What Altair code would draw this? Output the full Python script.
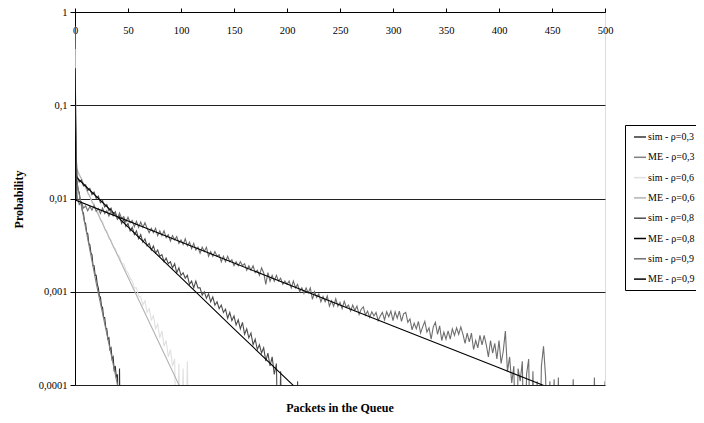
import altair as alt
import pandas as pd

FONT = "Liberation Serif"
ZERO = 0.00001  # empty cells of the simulation (drawn below the axis floor)

series_names = ["sim - ρ=0,3", "ME - ρ=0,3", "sim - ρ=0,6", "ME - ρ=0,6",
                "sim - ρ=0,8", "ME - ρ=0,8", "sim - ρ=0,9", "ME - ρ=0,9"]
series_colors = ["#333333", "#808080", "#e0e0e0", "#b2b2b2",
                 "#4d4d4d", "#000000", "#6e6e6e", "#000000"]

x_ticks = [0, 50, 100, 150, 200, 250, 300, 350, 400, 450, 500]
y_ticks = [0.0001, 0.001, 0.01, 0.1, 1]

# ---- analytical (ME) curves: breakpoints
me03_x = [0, 1, 20, 45]
me03_p = [0.7, 0.0166, 0.00124, 0.0000542]
me06_x = [0, 1, 50, 110]
me06_p = [0.4, 0.0214, 0.00143, 0.0000518]
me08_x = [0, 1, 50, 100, 150, 220]
me08_p = [0.25, 0.017, 0.00497, 0.00142, 0.0004, 0.0000697]
me09_x = [0, 1, 100, 200, 300, 400, 500]
me09_p = [0.1, 0.00955, 0.00342, 0.00121, 0.00043, 0.000153, 0.0000543]

# ---- simulation curves
sim03_p = [0.7, 0.018, 0.0150, 0.0122, 0.0116, 0.0094, 0.0090, 0.0073, 0.0069, 0.0056,
           0.0054, 0.0043, 0.0042, 0.0033, 0.0032, 0.0026, 0.0025, 0.0019, 0.0019, 0.0015,
           0.0015, 0.0012, 0.0011, 0.00090, 0.00088, 0.00070, 0.00068, 0.00053, 0.00053, 0.00041,
           0.00040, 0.00031, 0.00032, 0.00024, 0.00025, 0.00019, 0.00020, 0.00014, 0.00016, 0.00012,
           0.00013, ZERO, 0.00015, ZERO]

sim06_head = [0.4, 0.03]
sim06_p = [0.0210, 0.0176, 0.0168, 0.0140, 0.0135, 0.0112, 0.0108, 0.0090, 0.0088, 0.0072,
           0.0070, 0.0058, 0.0057, 0.0046, 0.0045, 0.0037, 0.0036, 0.0030, 0.0029, 0.0025,
           0.0024, 0.0020, 0.0020, 0.0017, 0.0016, 0.0014, 0.0013, 0.0011, 0.0011, 0.00090,
           0.00088, 0.00072, 0.00080, 0.00060, 0.00066, 0.00050, 0.00055, 0.00040, 0.00045, 0.00032,
           0.00038, 0.00026, 0.00030, 0.00020, 0.00024, 0.00016, 0.00019, ZERO, 0.00017, ZERO,
           0.00015, ZERO, 0.00018, ZERO]

sim08_head = [0.25, 0.03]
sim08_p = [0.0175, 0.0150, 0.0158, 0.0136, 0.0140, 0.0122, 0.0128, 0.0110, 0.0117, 0.0100,
           0.0106, 0.0090, 0.0095, 0.0081, 0.0086, 0.0074, 0.0079, 0.0067, 0.0072, 0.0060,
           0.0065, 0.0054, 0.0060, 0.0050, 0.0054, 0.0045, 0.0049, 0.0041, 0.0045, 0.0037,
           0.0041, 0.0034, 0.0037, 0.0031, 0.0033, 0.0028, 0.0031, 0.0026, 0.0028, 0.0024,
           0.0025, 0.0021, 0.0023, 0.0020, 0.0021, 0.0018, 0.0020, 0.0016, 0.0018, 0.0015,
           0.0016, 0.0014, 0.0015, 0.0012, 0.0013, 0.0011, 0.0013, 0.0011, 0.0011, 0.00092,
           0.0010, 0.00085, 0.00095, 0.00078, 0.00088, 0.00072, 0.00078, 0.00066, 0.00072, 0.00060,
           0.00065, 0.00052, 0.00060, 0.00049, 0.00055, 0.00044, 0.00050, 0.00040, 0.00047, 0.00035,
           0.00040, 0.00032, 0.00036, 0.00027, 0.00031, 0.00024, 0.00027, 0.00022, 0.00025, 0.00018,
           0.00022, 0.00016, 0.00020, 0.00013, 0.00017, ZERO, 0.00014, ZERO, ZERO, ZERO,
           ZERO, ZERO, ZERO, ZERO, 0.00011, ZERO]

sim09_head = [0.1, 0.028]
sim09_p = [0.0105, 0.0086, 0.0092, 0.0079, 0.0083, 0.0074, 0.0082, 0.0075, 0.0084, 0.0073,
           0.0078, 0.0069, 0.0079, 0.0069, 0.0074, 0.0065, 0.0074, 0.0065, 0.0070, 0.0061,
           0.0070, 0.0061, 0.0064, 0.0056, 0.0063, 0.0055, 0.0058, 0.0050, 0.0057, 0.0049,
           0.0056, 0.0049, 0.0055, 0.0048, 0.0043, 0.0048, 0.0043, 0.0048, 0.0040, 0.0045,
           0.0040, 0.0045, 0.0038, 0.0041, 0.0035, 0.0040, 0.0036, 0.0039, 0.0033, 0.0036,
           0.0032, 0.0037, 0.0031, 0.0034, 0.0029, 0.0033, 0.0028, 0.0030, 0.0026, 0.0030,
           0.0027, 0.0030, 0.0024, 0.0027, 0.0024, 0.0027, 0.0024, 0.0025, 0.0021, 0.0024,
           0.0021, 0.0024, 0.0021, 0.0022, 0.0019, 0.0021, 0.0019, 0.0021, 0.0019, 0.0020,
           0.0017, 0.0019, 0.0017, 0.0019, 0.0016, 0.0017, 0.0015, 0.0018, 0.0016, 0.0012,
           0.0016, 0.0013, 0.0015, 0.0013, 0.0015, 0.0013, 0.0014, 0.0012, 0.0013, 0.0012,
           0.0013, 0.0011, 0.0013, 0.0011, 0.0012, 0.0010, 0.0011, 0.00096, 0.0011, 0.00097,
           0.0011, 0.00083, 0.0010, 0.00087, 0.00095, 0.00078, 0.00089, 0.00078, 0.00090, 0.00070,
           0.00080, 0.00070, 0.00084, 0.00070, 0.00077, 0.00066, 0.00079, 0.00068, 0.00072, 0.00062,
           0.00072, 0.00063, 0.00070, 0.00057, 0.00065, 0.00069, 0.00056, 0.00062, 0.00053, 0.00061,
           0.00055, 0.00060, 0.00049, 0.00055, 0.00060, 0.00050, 0.00061, 0.00054, 0.00062, 0.00049,
           0.00061, 0.00052, 0.00062, 0.00048, 0.00058, 0.00060, 0.00047, 0.00051, 0.00039, 0.00046,
           0.00040, 0.00048, 0.00036, 0.00042, 0.00048, 0.00037, 0.00041, 0.00031, 0.00042, 0.00047,
           0.00035, 0.00043, 0.00030, 0.00037, 0.00031, 0.00038, 0.00031, 0.00040, 0.00034, 0.00041,
           0.00035, 0.00042, 0.00035, 0.00028, 0.00036, 0.00029, 0.00036, 0.00024, 0.00030, 0.00025,
           0.00034, 0.00027, 0.00034, 0.00027, 0.00020, 0.00030, 0.00022, 0.00028, 0.00019, 0.00030,
           0.00017, 0.00023, 0.00038, 0.00014, 0.00020, 0.000105, 0.00016, ZERO, 0.00015, 0.00011,
           0.00018, ZERO, 0.00013, 0.00019, ZERO, 0.00014, ZERO, 0.00011, ZERO, 0.00016,
           0.00026, 0.00012, ZERO, 0.00011, ZERO, 0.000115, ZERO, 0.00012, ZERO, ZERO,
           ZERO, ZERO, ZERO, ZERO, 0.000115, ZERO, ZERO, ZERO, ZERO, ZERO,
           ZERO, ZERO, ZERO, ZERO, 0.00012, ZERO, ZERO, ZERO, ZERO, 0.00011]

rows = []


def add(name, xs, ps):
    for xv, pv in zip(xs, ps):
        rows.append({"series": name, "x": xv, "p": pv})


def add_sim(name, head, tail):
    xs = list(range(len(head))) + list(range(2, 2 + 2 * len(tail), 2))
    add(name, xs, head + tail)


add("sim - ρ=0,3", list(range(len(sim03_p))), sim03_p)
add("ME - ρ=0,3", me03_x, me03_p)
add_sim("sim - ρ=0,6", sim06_head, sim06_p)
add("ME - ρ=0,6", me06_x, me06_p)
add_sim("sim - ρ=0,8", sim08_head, sim08_p)
add("ME - ρ=0,8", me08_x, me08_p)
add_sim("sim - ρ=0,9", sim09_head, sim09_p)
add("ME - ρ=0,9", me09_x, me09_p)

df = pd.DataFrame(rows)

chart = alt.Chart(df).mark_line(clip=True, strokeWidth=1.1).encode(
    x=alt.X("x:Q",
            scale=alt.Scale(domain=[0, 500], nice=False, zero=False),
            axis=alt.Axis(orient="top", values=x_ticks, title=None, grid=False,
                          tickSize=4, tickColor="black", domainColor="black",
                          labelPadding=-17, labelBaseline="top", labelFlush=False,
                          labelFont=FONT, labelFontSize=10.5, labelColor="black")),
    y=alt.Y("p:Q",
            scale=alt.Scale(type="log", domain=[0.0001, 1], nice=False),
            axis=alt.Axis(values=y_ticks,
                          labelExpr="datum.value >= 1 ? '1' : replace('' + datum.value, '.', ',')",
                          grid=True, gridColor="#222222", gridWidth=1,
                          tickSize=5, tickColor="black", domainColor="black",
                          labelPadding=3, labelFont=FONT, labelFontSize=10.5, labelColor="black",
                          title="Probability", titleFont=FONT, titleFontSize=12,
                          titleFontWeight="bold", titleColor="black",
                          titleX=-57, titleY=187, titleBaseline="middle", titleAngle=270)),
    color=alt.Color("series:N",
                    scale=alt.Scale(domain=series_names, range=series_colors),
                    legend=alt.Legend(title=None, orient="none", legendX=550, legendY=113,
                                      symbolType="stroke", symbolSize=144, symbolStrokeWidth=1.5,
                                      symbolOffset=3, labelOffset=1,
                                      labelFont=FONT, labelFontSize=10, labelColor="black",
                                      labelLimit=200, strokeColor="black", fillColor="white",
                                      padding=5, rowPadding=8.3)),
).properties(
    width=530,
    height=373,
    autosize=alt.AutoSizeParams(type="none"),
    padding={"left": 67, "top": 4, "right": 91, "bottom": 30},
    title=alt.TitleParams("Packets in the Queue", orient="bottom", anchor="middle",
                          frame="group", font=FONT, fontSize=12, fontWeight="bold",
                          color="black", offset=12, baseline="top"),
).configure_view(stroke=None).configure(background="white")

chart.save("out.html", embed_options={"renderer": "svg", "actions": False})
